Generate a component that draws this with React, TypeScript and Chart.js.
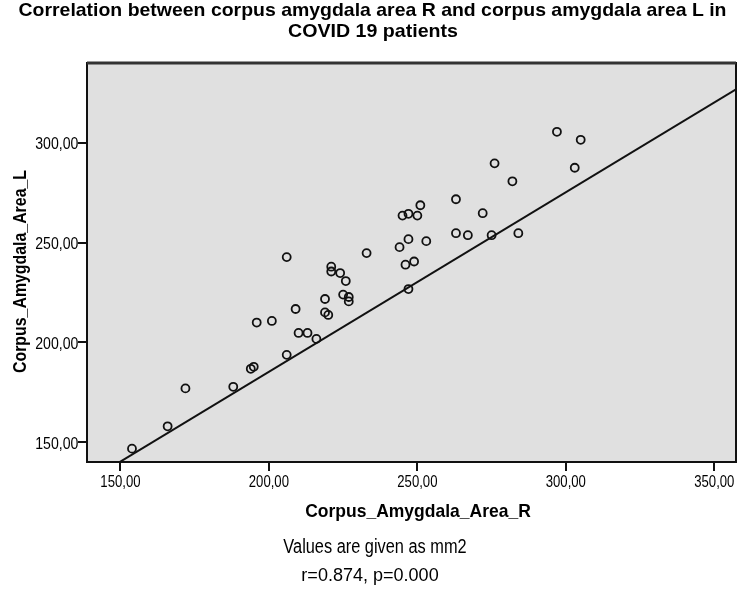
import React, { useEffect, useRef } from "react";
import { Chart, registerables } from "chart.js";

Chart.register(...registerables);

// ---- Data ----
const areaR: number[] = [
  153.9, 165.9, 171.9, 188.0, 193.9, 194.9, 195.9, 201.0, 206.0, 206.0,
  209.0, 210.0, 213.0, 216.0, 218.9, 218.9, 220.0, 221.0, 221.0, 224.0,
  225.9, 225.0, 226.9, 226.9, 232.9, 244.0, 246.0, 248.9, 247.0, 253.0,
  247.0, 245.0, 247.0, 250.0, 251.0, 263.0, 263.0, 267.0, 272.0, 275.0,
  276.0, 282.0, 284.0, 297.0, 303.0, 305.0,
];
const areaL: number[] = [
  146.7, 157.9, 176.9, 177.7, 186.7, 187.7, 209.9, 210.7, 193.7, 242.7,
  216.7, 204.7, 204.7, 201.7, 221.7, 215.0, 213.7, 237.9, 235.5, 234.7,
  230.7, 223.9, 222.7, 220.5, 244.7, 247.7, 238.9, 240.5, 251.7, 250.7,
  226.7, 263.5, 264.4, 263.5, 268.7, 271.7, 254.7, 253.7, 264.7, 253.7,
  289.7, 280.7, 254.7, 305.5, 287.5, 301.5,
];
const fitSlope = 0.9;
const fitIntercept = 5.2;
const xTicks: number[] = [150, 200, 250, 300, 350];
const yTicks: number[] = [150, 200, 250, 300];
const X_MIN = 138.75;
const X_MAX = 357.3;
const Y_MIN = 140;
const Y_MAX = 340;

const titleLines: string[] = [
  "Correlation between corpus amygdala area R and corpus amygdala area L in",
  "COVID 19 patients",
];
const xTitle = "Corpus_Amygdala_Area_R";
const yTitle = "Corpus_Amygdala_Area_L";
const footerLines: string[] = ["Values are given as mm2", "r=0.874, p=0.000"];

const FAMILY = '"Liberation Sans", Arial, sans-serif';
const fmt = (v: number) => v.toFixed(2).replace(".", ",");

type TextOpts = {
  size: number;
  bold?: boolean;
  align?: CanvasTextAlign;
  width?: number;
  sx?: number;
  rotate?: boolean;
};

function drawText(ctx: CanvasRenderingContext2D, text: string, x: number, y: number, o: TextOpts) {
  ctx.save();
  ctx.font = `${o.bold ? "bold " : ""}${o.size}px ${FAMILY}`;
  const w = ctx.measureText(text).width;
  const s = o.width ? o.width / w : o.sx ?? 1;
  ctx.translate(x, y);
  if (o.rotate) ctx.rotate(-Math.PI / 2);
  ctx.scale(s, 1);
  ctx.textAlign = o.align ?? "center";
  ctx.textBaseline = "alphabetic";
  ctx.fillStyle = "#000";
  ctx.fillText(text, 0, 0);
  ctx.restore();
}

const decorPlugin = {
  id: "spssDecor",
  beforeDatasetsDraw(chart: any) {
    const { ctx, chartArea: a } = chart;
    ctx.save();
    ctx.fillStyle = "#e0e0e0";
    ctx.fillRect(a.left, a.top, a.right - a.left, a.bottom - a.top);
    ctx.restore();
  },
  afterDraw(chart: any) {
    const { ctx, chartArea: a } = chart;
    const xs = chart.scales.x;
    const ys = chart.scales.y;
    ctx.save();
    // frame
    ctx.strokeStyle = "#111";
    ctx.lineWidth = 2;
    ctx.strokeRect(a.left, a.top, a.right - a.left, a.bottom - a.top);
    ctx.lineWidth = 3;
    ctx.strokeStyle = "#333";
    ctx.beginPath();
    ctx.moveTo(a.left, a.top);
    ctx.lineTo(a.right, a.top);
    ctx.stroke();
    // tick marks
    ctx.strokeStyle = "#111";
    ctx.lineWidth = 2;
    ctx.beginPath();
    xTicks.forEach((v) => {
      const px = Math.round(xs.getPixelForValue(v));
      ctx.moveTo(px, a.bottom);
      ctx.lineTo(px, a.bottom + 9);
    });
    yTicks.forEach((v) => {
      const py = Math.round(ys.getPixelForValue(v));
      ctx.moveTo(a.left, py);
      ctx.lineTo(a.left - 9, py);
    });
    ctx.stroke();
    ctx.restore();

    // tick labels
    xTicks.forEach((v) => {
      drawText(ctx, fmt(v), xs.getPixelForValue(v), a.bottom + 24.5, { size: 16, sx: 0.82 });
    });
    yTicks.forEach((v) => {
      drawText(ctx, fmt(v), a.left - 8.7, ys.getPixelForValue(v) + 6.5, { size: 16, sx: 0.88, align: "right" });
    });

    // titles
    drawText(ctx, titleLines[0], 372.5, 16, { size: 19, bold: true, width: 708 });
    drawText(ctx, titleLines[1], 373, 36.5, { size: 19, bold: true, width: 170 });
    drawText(ctx, xTitle, 418, 517.3, { size: 19, bold: true, width: 225.7 });
    drawText(ctx, yTitle, 25.5, 271.5, { size: 18.5, bold: true, width: 203, rotate: true });
    drawText(ctx, footerLines[0], 375, 553.3, { size: 20, width: 183.3 });
    drawText(ctx, footerLines[1], 370, 580.7, { size: 18.5, width: 137.3 });
  },
};

export default function App() {
  const ref = useRef<HTMLCanvasElement | null>(null);

  useEffect(() => {
    if (!ref.current) return;
    const points = areaR.map((x, i) => ({ x, y: areaL[i] }));
    const fitLine = [X_MIN, X_MAX].map((x) => ({ x, y: fitIntercept + fitSlope * x }));
    const chart = new Chart(ref.current, {
      type: "scatter",
      data: {
        datasets: [
          {
            label: "Patients",
            data: points,
            pointStyle: "circle",
            pointRadius: 4,
            pointBorderWidth: 1.8,
            borderColor: "#000",
            backgroundColor: "rgba(0,0,0,0)",
            pointBackgroundColor: "rgba(0,0,0,0)",
            pointBorderColor: "#111",
          },
          {
            type: "line",
            label: "Fit",
            data: fitLine,
            borderColor: "#111",
            borderWidth: 2,
            pointRadius: 0,
            fill: false,
          } as any,
        ],
      },
      options: {
        responsive: false,
        animation: false,
        devicePixelRatio: 1,
        layout: { padding: { left: 87, top: 63, right: 6, bottom: 129 } },
        plugins: { legend: { display: false }, tooltip: { enabled: false }, title: { display: false } },
        scales: {
          x: { type: "linear", min: X_MIN, max: X_MAX, display: false },
          y: { type: "linear", min: Y_MIN, max: Y_MAX, display: false },
        },
      },
      plugins: [decorPlugin],
    });
    return () => chart.destroy();
  }, []);

  return (
    <div style={{ position: "absolute", left: 0, top: 0, width: 742, height: 591, background: "#fff" }}>
      <canvas ref={ref} width={742} height={591} style={{ display: "block" }} />
    </div>
  );
}
